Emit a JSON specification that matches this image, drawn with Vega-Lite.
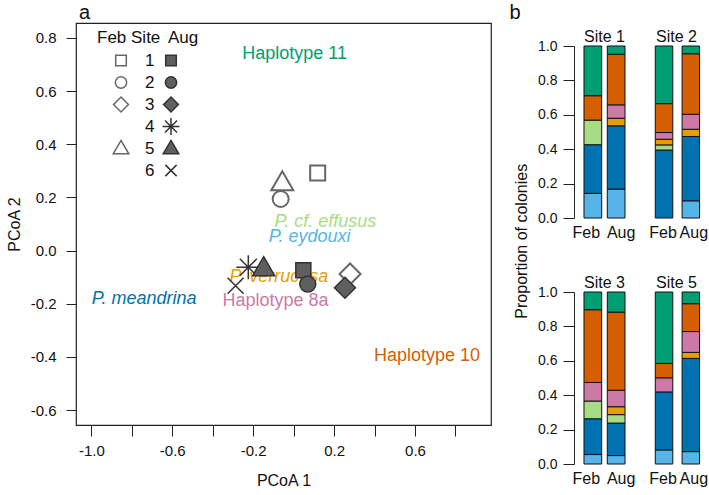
{
  "$schema": "https://vega.github.io/schema/vega-lite/v6.json",
  "padding": {"left": 5, "top": 2, "right": 5, "bottom": 4},
  "config": {
    "font": "Liberation Sans",
    "view": {"stroke": null},
    "axis": {"labelFont": "Liberation Sans", "titleFont": "Liberation Sans", "labelColor": "#111", "titleColor": "#111", "domainColor": "#222", "tickColor": "#222", "titleFontWeight": "normal", "grid": false},
    "legend": {"labelFont": "Liberation Sans", "titleFont": "Liberation Sans", "titleFontWeight": "normal", "labelColor": "#111", "titleColor": "#111"},
    "title": {"font": "Liberation Sans", "fontWeight": "normal", "color": "#111", "fontSize": 16, "offset": -6}
  },
  "datasets": {
    "pts": [
      {"site": "1", "month": "Feb", "x": 0.119, "y": 0.292},
      {"site": "2", "month": "Feb", "x": -0.064, "y": 0.194},
      {"site": "3", "month": "Feb", "x": 0.279, "y": -0.088},
      {"site": "5", "month": "Feb", "x": -0.056, "y": 0.255},
      {"site": "1", "month": "Aug", "x": 0.048, "y": -0.074},
      {"site": "2", "month": "Aug", "x": 0.07, "y": -0.126},
      {"site": "3", "month": "Aug", "x": 0.254, "y": -0.14},
      {"site": "4", "month": "Aug", "x": -0.224, "y": -0.063},
      {"site": "5", "month": "Aug", "x": -0.148, "y": -0.066},
      {"site": "6", "month": "Aug", "x": -0.287, "y": -0.132}
    ],
    "labs": [
      {"hap": "Haplotype 11", "kind": "haplotype", "x": 0.005, "y": 0.74},
      {"hap": "Haplotype 10", "kind": "haplotype", "x": 0.66, "y": -0.398},
      {"hap": "Haplotype 8a", "kind": "haplotype", "x": -0.09, "y": -0.19},
      {"hap": "P. meandrina", "kind": "species", "x": -0.739, "y": -0.182},
      {"hap": "P. verrucosa", "kind": "species", "x": -0.073, "y": -0.1},
      {"hap": "P. eydouxi", "kind": "species", "x": 0.079, "y": 0.05},
      {"hap": "P. cf. effusus", "kind": "species", "x": 0.157, "y": 0.109}
    ],
    "bars": [
      {"site": "Site 1", "month": "Feb", "hap": "P. eydouxi", "k": 1, "p": 0.143},
      {"site": "Site 1", "month": "Feb", "hap": "P. meandrina", "k": 2, "p": 0.283},
      {"site": "Site 1", "month": "Feb", "hap": "P. cf. effusus", "k": 3, "p": 0.143},
      {"site": "Site 1", "month": "Feb", "hap": "Haplotype 10", "k": 6, "p": 0.142},
      {"site": "Site 1", "month": "Feb", "hap": "Haplotype 11", "k": 7, "p": 0.289},
      {"site": "Site 1", "month": "Aug", "hap": "P. eydouxi", "k": 1, "p": 0.168},
      {"site": "Site 1", "month": "Aug", "hap": "P. meandrina", "k": 2, "p": 0.368},
      {"site": "Site 1", "month": "Aug", "hap": "P. verrucosa", "k": 4, "p": 0.044},
      {"site": "Site 1", "month": "Aug", "hap": "Haplotype 8a", "k": 5, "p": 0.078},
      {"site": "Site 1", "month": "Aug", "hap": "Haplotype 10", "k": 6, "p": 0.294},
      {"site": "Site 1", "month": "Aug", "hap": "Haplotype 11", "k": 7, "p": 0.048},
      {"site": "Site 2", "month": "Feb", "hap": "P. meandrina", "k": 2, "p": 0.395},
      {"site": "Site 2", "month": "Feb", "hap": "P. cf. effusus", "k": 3, "p": 0.03},
      {"site": "Site 2", "month": "Feb", "hap": "P. verrucosa", "k": 4, "p": 0.033},
      {"site": "Site 2", "month": "Feb", "hap": "Haplotype 8a", "k": 5, "p": 0.039},
      {"site": "Site 2", "month": "Feb", "hap": "Haplotype 10", "k": 6, "p": 0.168},
      {"site": "Site 2", "month": "Feb", "hap": "Haplotype 11", "k": 7, "p": 0.335},
      {"site": "Site 2", "month": "Aug", "hap": "P. eydouxi", "k": 1, "p": 0.1},
      {"site": "Site 2", "month": "Aug", "hap": "P. meandrina", "k": 2, "p": 0.374},
      {"site": "Site 2", "month": "Aug", "hap": "P. verrucosa", "k": 4, "p": 0.042},
      {"site": "Site 2", "month": "Aug", "hap": "Haplotype 8a", "k": 5, "p": 0.087},
      {"site": "Site 2", "month": "Aug", "hap": "Haplotype 10", "k": 6, "p": 0.352},
      {"site": "Site 2", "month": "Aug", "hap": "Haplotype 11", "k": 7, "p": 0.045},
      {"site": "Site 3", "month": "Feb", "hap": "P. eydouxi", "k": 1, "p": 0.055},
      {"site": "Site 3", "month": "Feb", "hap": "P. meandrina", "k": 2, "p": 0.208},
      {"site": "Site 3", "month": "Feb", "hap": "P. cf. effusus", "k": 3, "p": 0.103},
      {"site": "Site 3", "month": "Feb", "hap": "Haplotype 8a", "k": 5, "p": 0.108},
      {"site": "Site 3", "month": "Feb", "hap": "Haplotype 10", "k": 6, "p": 0.423},
      {"site": "Site 3", "month": "Feb", "hap": "Haplotype 11", "k": 7, "p": 0.103},
      {"site": "Site 3", "month": "Aug", "hap": "P. eydouxi", "k": 1, "p": 0.049},
      {"site": "Site 3", "month": "Aug", "hap": "P. meandrina", "k": 2, "p": 0.189},
      {"site": "Site 3", "month": "Aug", "hap": "P. cf. effusus", "k": 3, "p": 0.049},
      {"site": "Site 3", "month": "Aug", "hap": "P. verrucosa", "k": 4, "p": 0.046},
      {"site": "Site 3", "month": "Aug", "hap": "Haplotype 8a", "k": 5, "p": 0.096},
      {"site": "Site 3", "month": "Aug", "hap": "Haplotype 10", "k": 6, "p": 0.454},
      {"site": "Site 3", "month": "Aug", "hap": "Haplotype 11", "k": 7, "p": 0.117},
      {"site": "Site 5", "month": "Feb", "hap": "P. eydouxi", "k": 1, "p": 0.082},
      {"site": "Site 5", "month": "Feb", "hap": "P. meandrina", "k": 2, "p": 0.337},
      {"site": "Site 5", "month": "Feb", "hap": "Haplotype 8a", "k": 5, "p": 0.082},
      {"site": "Site 5", "month": "Feb", "hap": "Haplotype 10", "k": 6, "p": 0.084},
      {"site": "Site 5", "month": "Feb", "hap": "Haplotype 11", "k": 7, "p": 0.415},
      {"site": "Site 5", "month": "Aug", "hap": "P. eydouxi", "k": 1, "p": 0.072},
      {"site": "Site 5", "month": "Aug", "hap": "P. meandrina", "k": 2, "p": 0.542},
      {"site": "Site 5", "month": "Aug", "hap": "P. verrucosa", "k": 4, "p": 0.035},
      {"site": "Site 5", "month": "Aug", "hap": "Haplotype 8a", "k": 5, "p": 0.121},
      {"site": "Site 5", "month": "Aug", "hap": "Haplotype 10", "k": 6, "p": 0.162},
      {"site": "Site 5", "month": "Aug", "hap": "Haplotype 11", "k": 7, "p": 0.068}
    ]
  },
  "hconcat": [
    {
      "width": 415,
      "height": 402,
      "view": {"stroke": "#222", "strokeWidth": 1.2},
      "title": {"text": "a", "anchor": "start", "fontSize": 20, "offset": 0, "dx": 3, "frame": "group"},
      "layer": [
        {
          "mark": {"type": "rule", "color": "#bdbdbd", "strokeDash": [6, 5], "strokeWidth": 1.5},
          "encoding": {"x": {"datum": 0, "type": "quantitative", "scale": {"domain": [-1.076, 0.976], "nice": false, "zero": false}}}
        },
        {
          "mark": {"type": "rule", "color": "#bdbdbd", "strokeDash": [6, 5], "strokeWidth": 1.5},
          "encoding": {"y": {"datum": 0, "type": "quantitative", "scale": {"domain": [-0.656, 0.856], "nice": false, "zero": false}}}
        },
        {
          "data": {"name": "labs"},
          "transform": [{"filter": "datum.kind == 'haplotype'"}],
          "mark": {"type": "text", "fontSize": 18, "align": "center", "baseline": "middle"},
          "encoding": {
            "x": {"field": "x", "type": "quantitative"},
            "y": {"field": "y", "type": "quantitative"},
            "text": {"field": "hap"},
            "color": {"field": "hap", "type": "nominal", "legend": null,
              "scale": {"domain": ["P. eydouxi", "P. meandrina", "P. cf. effusus", "P. verrucosa", "Haplotype 8a", "Haplotype 10", "Haplotype 11"],
                        "range": ["#56B4E9", "#0072B2", "#A8DC84", "#E69F00", "#CC79A7", "#D55E00", "#009E73"]}}
          }
        },
        {
          "data": {"name": "labs"},
          "transform": [{"filter": "datum.kind == 'species'"}],
          "mark": {"type": "text", "fontSize": 18, "fontStyle": "italic", "align": "center", "baseline": "middle"},
          "encoding": {
            "x": {"field": "x", "type": "quantitative"},
            "y": {"field": "y", "type": "quantitative"},
            "text": {"field": "hap"},
            "color": {"field": "hap", "type": "nominal", "legend": null}
          }
        },
        {
          "data": {"name": "pts"},
          "transform": [{"filter": "datum.month == 'Feb'"}],
          "mark": {"type": "point", "filled": false, "color": "#666", "strokeWidth": 2, "size": 625, "opacity": 1},
          "encoding": {
            "x": {"field": "x", "type": "quantitative", "title": "PCoA 1",
              "axis": {"values": [-1, -0.8, -0.6, -0.4, -0.2, 0, 0.2, 0.4, 0.6, 0.8], "labelExpr": "abs(round(datum.value*10)) % 4 == 2 ? replace(format(datum.value, '.1f'), '\u2212', '-') : ''", "domain": false, "tickSize": 11, "labelPadding": 7, "labelFontSize": 15, "titleFontSize": 16, "titlePadding": 14, "labelFlush": false, "labelOverlap": false}},
            "y": {"field": "y", "type": "quantitative", "title": "PCoA 2",
              "axis": {"values": [-0.6, -0.4, -0.2, 0, 0.2, 0.4, 0.6, 0.8], "labelExpr": "replace(format(datum.value, '.1f'), '\u2212', '-')", "domain": false, "tickSize": 10, "labelPadding": 10, "labelFontSize": 15, "titleFontSize": 16, "titlePadding": 8, "labelFlush": false, "labelOverlap": false}},
            "shape": {"field": "site", "type": "nominal",
              "scale": {"domain": ["1", "2", "3", "4", "5", "6"],
                        "range": ["M-1,-1M1,1M-0.6,-0.6L0.6,-0.6L0.6,0.6L-0.6,0.6Z", "M-1,-1M1,1M0.64,0A0.64,0.64,0,1,1,-0.64,0A0.64,0.64,0,1,1,0.64,0Z", "M-1,-1M1,1M0,-0.84L0.84,0L0,0.84L-0.84,0Z", "M-1,-1M1,1", "M-1,-1M1,1M0,-0.92L0.88,0.6L-0.88,0.6Z", "M-1,-1M1,1"]},
              "legend": {"title": "Feb Site", "orient": "none", "legendX": 21, "legendY": 7, "padding": 0, "symbolSize": 312, "symbolOffset": 14, "labelOffset": 14, "labelFontSize": 17, "titleFontSize": 17, "titlePadding": 3.5, "rowPadding": -2.2, "symbolStrokeWidth": 1.5, "symbolStrokeColor": "#666", "symbolFillColor": "transparent"}}
          }
        },
        {
          "data": {"name": "pts"},
          "transform": [{"filter": "datum.month == 'Aug'"}],
          "mark": {"type": "point", "filled": true, "fill": "#5f5f5f", "stroke": "#333", "strokeWidth": 1.5, "size": 625, "opacity": 1},
          "encoding": {
            "x": {"field": "x", "type": "quantitative"},
            "y": {"field": "y", "type": "quantitative"},
            "shape": {"field": "site", "type": "nominal",
              "scale": {"domain": ["1", "2", "3", "4", "5", "6"],
                        "range": ["M-1,-1M1,1M-0.6,-0.6L0.6,-0.6L0.6,0.6L-0.6,0.6Z", "M-1,-1M1,1M0.64,0A0.64,0.64,0,1,1,-0.64,0A0.64,0.64,0,1,1,0.64,0Z", "M-1,-1M1,1M0,-0.84L0.84,0L0,0.84L-0.84,0Z", "M-1,-1M1,1M-0.96,0L0.96,0M0,-0.96L0,0.96M-0.68,-0.68L0.68,0.68M-0.68,0.68L0.68,-0.68", "M-1,-1M1,1M0,-0.92L0.88,0.6L-0.88,0.6Z", "M-1,-1M1,1M-0.64,-0.64L0.64,0.64M-0.64,0.64L0.64,-0.64"]},
              "legend": {"title": "Aug", "orient": "none", "legendX": 92, "legendY": 7, "padding": 0, "symbolSize": 312, "symbolOffset": -7, "labelExpr": "''", "labelFontSize": 17, "titleFontSize": 17, "titlePadding": 3.5, "rowPadding": -2.2,
                "encode": {"symbols": {"update": {"stroke": {"value": "#333"}, "strokeWidth": {"value": 1.5}, "fill": {"value": "#5f5f5f"}, "opacity": {"value": 1}}}}}}
          }
        }
      ],
      "resolve": {"scale": {"shape": "independent"}, "legend": {"shape": "independent"}}
    },
    {
      "title": {"text": "b", "anchor": "start", "fontSize": 20, "offset": 0, "dx": -4},
      "spacing": 4,
      "vconcat": [
        {
          "width": 10, "height": 1,
          "data": {"values": [{}]},
          "mark": {"type": "point", "size": 0, "opacity": 0}
        },
        {
          "title": {"text": "Proportion of colonies", "orient": "left", "anchor": "middle", "fontSize": 16, "offset": 8, "dx": 16},
          "spacing": 34,
          "vconcat": [
            {
              "spacing": 10,
              "hconcat": [
                {
                  "width": 57, "height": 172,
                  "title": {"text": "Site 1", "dx": 2, "frame": "group"},
                  "data": {"name": "bars"},
                  "transform": [{"filter": "datum.site == 'Site 1'"}],
                  "mark": {"type": "bar", "stroke": "#111", "strokeWidth": 1},
                  "encoding": {
                    "x": {"field": "month", "type": "nominal", "sort": ["Feb", "Aug"], "scale": {"paddingInner": 0.24, "paddingOuter": 0.343, "align": 0.625}, "axis": {"title": null, "labelAngle": 0, "domain": false, "ticks": false, "labelFontSize": 16, "labelPadding": 6, "labelOverlap": false, "labelOffset": {"condition": {"test": "datum.value == 'Feb'", "value": -6.5}, "value": 5}}},
                    "y": {"field": "p", "type": "quantitative", "stack": "zero", "scale": {"domain": [0, 1], "nice": false}, "axis": {"title": null, "values": [0, 0.2, 0.4, 0.6, 0.8, 1], "format": ".1f", "labelFontSize": 14, "tickSize": 11, "labelPadding": 6}},
                    "color": {"field": "hap", "type": "nominal", "legend": null, "scale": {"domain": ["P. eydouxi", "P. meandrina", "P. cf. effusus", "P. verrucosa", "Haplotype 8a", "Haplotype 10", "Haplotype 11"], "range": ["#56B4E9", "#0072B2", "#A8DC84", "#E69F00", "#CC79A7", "#D55E00", "#009E73"]}},
                    "order": {"field": "k", "type": "quantitative"}
                  }
                },
                {
                  "width": 57, "height": 172,
                  "title": {"text": "Site 2", "dx": 3, "frame": "group", "offset": 1},
                  "data": {"name": "bars"},
                  "transform": [{"filter": "datum.site == 'Site 2'"}],
                  "mark": {"type": "bar", "stroke": "#111", "strokeWidth": 1},
                  "encoding": {
                    "x": {"field": "month", "type": "nominal", "sort": ["Feb", "Aug"], "scale": {"paddingInner": 0.347, "paddingOuter": 0.237, "align": 0.81}, "axis": {"title": null, "labelAngle": 0, "domain": false, "ticks": false, "labelFontSize": 16, "labelPadding": 6, "labelOverlap": false, "labelOffset": {"condition": {"test": "datum.value == 'Feb'", "value": -1}, "value": 3}}},
                    "y": {"field": "p", "type": "quantitative", "stack": "zero", "scale": {"domain": [0, 1], "nice": false}, "axis": null},
                    "color": {"field": "hap", "type": "nominal", "legend": null, "scale": {"domain": ["P. eydouxi", "P. meandrina", "P. cf. effusus", "P. verrucosa", "Haplotype 8a", "Haplotype 10", "Haplotype 11"], "range": ["#56B4E9", "#0072B2", "#A8DC84", "#E69F00", "#CC79A7", "#D55E00", "#009E73"]}},
                    "order": {"field": "k", "type": "quantitative"}
                  }
                }
              ]
            },
            {
              "spacing": 10,
              "hconcat": [
                {
                  "width": 57, "height": 172,
                  "title": {"text": "Site 3", "dx": 2, "frame": "group"},
                  "data": {"name": "bars"},
                  "transform": [{"filter": "datum.site == 'Site 3'"}],
                  "mark": {"type": "bar", "stroke": "#111", "strokeWidth": 1},
                  "encoding": {
                    "x": {"field": "month", "type": "nominal", "sort": ["Feb", "Aug"], "scale": {"paddingInner": 0.24, "paddingOuter": 0.343, "align": 0.625}, "axis": {"title": null, "labelAngle": 0, "domain": false, "ticks": false, "labelFontSize": 16, "labelPadding": 6, "labelOverlap": false, "labelOffset": {"condition": {"test": "datum.value == 'Feb'", "value": -6.5}, "value": 5}}},
                    "y": {"field": "p", "type": "quantitative", "stack": "zero", "scale": {"domain": [0, 1], "nice": false}, "axis": {"title": null, "values": [0, 0.2, 0.4, 0.6, 0.8, 1], "format": ".1f", "labelFontSize": 14, "tickSize": 11, "labelPadding": 6}},
                    "color": {"field": "hap", "type": "nominal", "legend": null, "scale": {"domain": ["P. eydouxi", "P. meandrina", "P. cf. effusus", "P. verrucosa", "Haplotype 8a", "Haplotype 10", "Haplotype 11"], "range": ["#56B4E9", "#0072B2", "#A8DC84", "#E69F00", "#CC79A7", "#D55E00", "#009E73"]}},
                    "order": {"field": "k", "type": "quantitative"}
                  }
                },
                {
                  "width": 57, "height": 172,
                  "title": {"text": "Site 5", "dx": 3, "frame": "group", "offset": 1},
                  "data": {"name": "bars"},
                  "transform": [{"filter": "datum.site == 'Site 5'"}],
                  "mark": {"type": "bar", "stroke": "#111", "strokeWidth": 1},
                  "encoding": {
                    "x": {"field": "month", "type": "nominal", "sort": ["Feb", "Aug"], "scale": {"paddingInner": 0.347, "paddingOuter": 0.237, "align": 0.81}, "axis": {"title": null, "labelAngle": 0, "domain": false, "ticks": false, "labelFontSize": 16, "labelPadding": 6, "labelOverlap": false, "labelOffset": {"condition": {"test": "datum.value == 'Feb'", "value": -1}, "value": 3}}},
                    "y": {"field": "p", "type": "quantitative", "stack": "zero", "scale": {"domain": [0, 1], "nice": false}, "axis": null},
                    "color": {"field": "hap", "type": "nominal", "legend": null, "scale": {"domain": ["P. eydouxi", "P. meandrina", "P. cf. effusus", "P. verrucosa", "Haplotype 8a", "Haplotype 10", "Haplotype 11"], "range": ["#56B4E9", "#0072B2", "#A8DC84", "#E69F00", "#CC79A7", "#D55E00", "#009E73"]}},
                    "order": {"field": "k", "type": "quantitative"}
                  }
                }
              ]
            }
          ]
        }
      ]
    }
  ],
  "spacing": 17
}
